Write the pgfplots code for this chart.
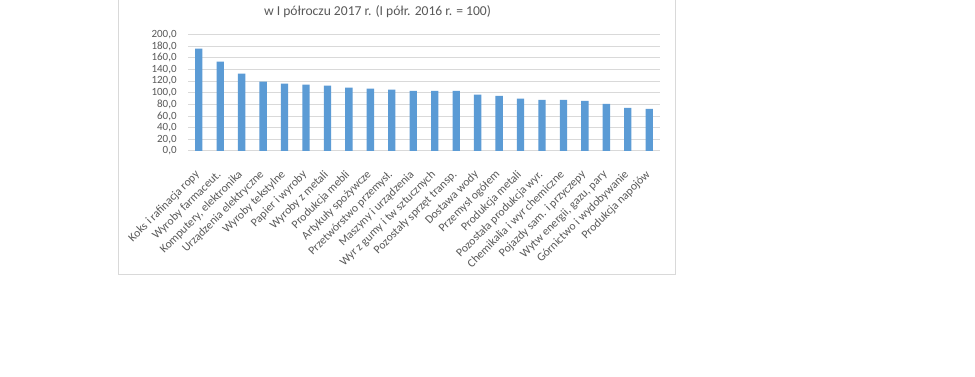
\documentclass[border=0pt]{standalone}
\usepackage{pgfplots}
\pgfplotsset{compat=1.18}
\usepackage{fontspec}
\setmainfont{Carlito}
\definecolor{barblue}{HTML}{5B9BD5}
\definecolor{txt}{HTML}{595959}
\definecolor{gridc}{HTML}{D9D9D9}
\begin{document}
\begin{tikzpicture}
\useasboundingbox (0,0) rectangle (731.25pt,-282.75pt);
\fill[white] (0,0) rectangle (731.25pt,-282.75pt);
\begin{scope}[x=0.75pt,y=-0.75pt]
\draw[gridc, line width=0.75pt] (118,-5) rectangle (675.5,274.5);
\node[txt, font=\fontsize{10.2}{12}\selectfont, inner sep=0pt] at (377.5,12) {w I półroczu 2017 r. (I półr. 2016 r. = 100)};
\end{scope}
\begin{axis}[
  at={(141pt,-113.25pt)}, anchor=south west,
  scale only axis, width=354pt, height=87.4pt,
  xmin=-0.5, xmax=21.5, ymin=0, ymax=200,
  ytick={0,20,...,200},
  ymajorgrids, grid style={gridc, line width=0.75pt},
  axis x line*=bottom, axis y line*=left,
  y axis line style={draw=none},
  x axis line style={gridc, line width=0.75pt},
  major tick length=0pt,
  /pgf/number format/.cd, fixed, fixed zerofill, precision=1, use comma, assume math mode=true,
  /pgfplots/.cd,
  yticklabel style={txt, font=\fontsize{8.25}{9}\selectfont, xshift=-5pt},
  xtick={0,...,21},
  xticklabels={Koks i rafinacja ropy, Wyroby farmaceut., {Komputery, elektronika}, Urządzenia elektryczne, Wyroby tekstylne, Papier i wyroby, Wyroby z metali, Produkcja mebli, Artykuły spożywcze, Przetwórstwo przemysł., Maszyny i urządzenia, Wyr z gumy i tw sztucznych, Pozostały sprzęt transp., Dostawa wody, Przemysł ogółem, Produkcja metali, Pozostała produkcja wyr., Chemikalia i wyr chemiczne, Pojazdy sam. i przyczepy, {Wytw energii, gazu, pary}, Górnictwo i wydobywanie, Produkcja napojów},
  xticklabel style={txt, font=\fontsize{8.8}{10}\selectfont, rotate=45, anchor=north east, inner sep=1pt, xshift=-11pt, yshift=-6.2pt},
  ybar, bar width=5.5pt,
]
\addplot[fill=barblue, draw=none] coordinates {
(0,175.9) (1,153.4) (2,132.8) (3,119.0) (4,115.5) (5,113.8) (6,112.1) (7,108.6)
(8,106.9) (9,105.2) (10,103.4) (11,103.4) (12,103.4) (13,96.6) (14,94.8) (15,89.7)
(16,87.9) (17,87.9) (18,86.2) (19,81.0) (20,74.1) (21,72.4)};
\end{axis}
\end{tikzpicture}
\end{document}
